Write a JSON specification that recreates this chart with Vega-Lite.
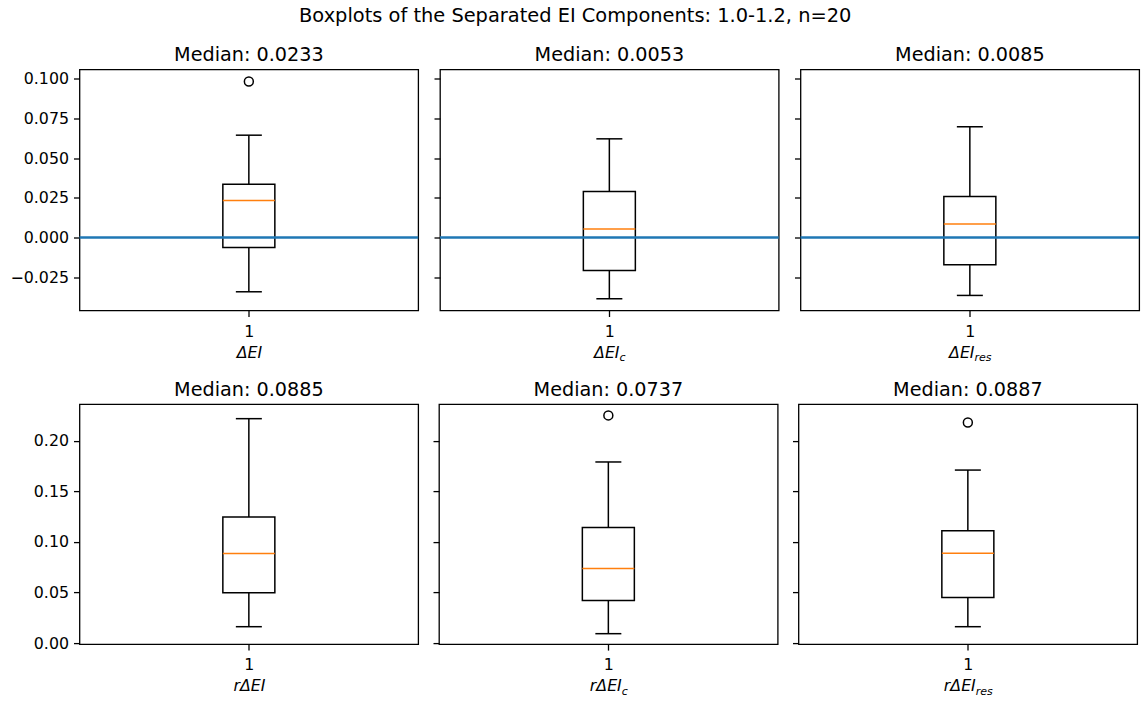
{
 "$schema": "https://vega.github.io/schema/vega-lite/v6.json",
 "background": "white",
 "padding": {"left": 8.5, "top": 5.5, "right": 0, "bottom": 0},
 "title": {"text": "Boxplots of the Separated EI Components: 1.0-1.2, n=20", "anchor": "middle", "fontSize": 19.4, "fontWeight": "normal", "font": "DejaVu Sans", "color": "black", "baseline": "alphabetic", "offset": 4},
 "datasets": {
  "stats": [
   {"panel": "p1", "pos": 1, "lo": -0.0342, "q1": -0.0063, "median": 0.0233, "q3": 0.0336, "hi": 0.0645, "outlier": 0.0983},
   {"panel": "p2", "pos": 1, "lo": -0.0386, "q1": -0.0208, "median": 0.0053, "q3": 0.0290, "hi": 0.0622, "outlier": null},
   {"panel": "p3", "pos": 1, "lo": -0.0365, "q1": -0.0172, "median": 0.0085, "q3": 0.0258, "hi": 0.0698, "outlier": null},
   {"panel": "p4", "pos": 1, "lo": 0.0162, "q1": 0.0497, "median": 0.0885, "q3": 0.1247, "hi": 0.2218, "outlier": null},
   {"panel": "p5", "pos": 1, "lo": 0.0093, "q1": 0.0421, "median": 0.0737, "q3": 0.1142, "hi": 0.1790, "outlier": 0.2250},
   {"panel": "p6", "pos": 1, "lo": 0.0162, "q1": 0.0451, "median": 0.0887, "q3": 0.1110, "hi": 0.1710, "outlier": 0.2180}
  ]
 },
 "data": {"name": "stats"},
 "spacing": 16.6,
 "vconcat": [
  {
   "spacing": 11.5,
   "hconcat": [
    {
     "width": 338.7, "height": 241,
     "title": "Median: 0.0233",
     "transform": [{"filter": "datum.panel === 'p1'"}],
     "layer": [
      {"mark": {"type": "rule", "color": "black", "strokeWidth": 1.5},
       "encoding": {"x": {"field": "pos", "type": "quantitative", "scale": {"domain": [0.5, 1.5]}, "axis": null},
                    "y": {"field": "lo", "type": "quantitative", "scale": {"domain": [-0.046, 0.1059], "nice": false, "zero": false}, "title": null,
                          "axis": {"values": [-0.025, 0, 0.025, 0.05, 0.075, 0.1], "format": ".3f", "labelExpr": "replace(datum.label, '-', '\u2212')", "minExtent": 69.3, "maxExtent": 69.3}},
                    "y2": {"field": "q1"}}},
      {"mark": {"type": "rule", "color": "black", "strokeWidth": 1.5},
       "encoding": {"x": {"field": "pos", "type": "quantitative", "scale": {"domain": [0.5, 1.5]}, "axis": null},
                    "y": {"field": "q3", "type": "quantitative", "scale": {"domain": [-0.046, 0.1059], "nice": false, "zero": false}, "title": null},
                    "y2": {"field": "hi"}}},
      {"mark": {"type": "tick", "orient": "horizontal", "size": 26, "thickness": 1.5, "color": "black", "opacity": 1},
       "encoding": {"x": {"field": "pos", "type": "quantitative", "scale": {"domain": [0.5, 1.5]}, "axis": null},
                    "y": {"field": "lo", "type": "quantitative", "scale": {"domain": [-0.046, 0.1059], "nice": false, "zero": false}, "title": null}}},
      {"mark": {"type": "tick", "orient": "horizontal", "size": 26, "thickness": 1.5, "color": "black", "opacity": 1},
       "encoding": {"x": {"field": "pos", "type": "quantitative", "scale": {"domain": [0.5, 1.5]}, "axis": null},
                    "y": {"field": "hi", "type": "quantitative", "scale": {"domain": [-0.046, 0.1059], "nice": false, "zero": false}, "title": null}}},
      {"mark": {"type": "bar", "size": 52, "fillOpacity": 0, "stroke": "black", "strokeWidth": 1.5},
       "encoding": {"x": {"field": "pos", "type": "quantitative", "scale": {"domain": [0.5, 1.5]},
                          "axis": {"orient": "bottom", "values": [1], "format": "d", "title": "ΔEI", "titleFontStyle": "italic", "titleFontSize": 15.8, "titleX": 169.35, "titleY": 46.7, "titleAlign": "center", "titleBaseline": "alphabetic"}},
                    "y": {"field": "q1", "type": "quantitative", "scale": {"domain": [-0.046, 0.1059], "nice": false, "zero": false}, "title": null},
                    "y2": {"field": "q3"}}},
      {"mark": {"type": "tick", "orient": "horizontal", "size": 52, "thickness": 1.5, "color": "#ff7f0e", "opacity": 1},
       "encoding": {"x": {"field": "pos", "type": "quantitative", "scale": {"domain": [0.5, 1.5]}, "axis": null},
                    "y": {"field": "median", "type": "quantitative", "scale": {"domain": [-0.046, 0.1059], "nice": false, "zero": false}, "title": null}}},
      {"mark": {"type": "point", "shape": "circle", "filled": false, "color": "black", "strokeWidth": 1.5, "size": 80, "opacity": 1},
       "encoding": {"x": {"field": "pos", "type": "quantitative", "scale": {"domain": [0.5, 1.5]}, "axis": null},
                    "y": {"field": "outlier", "type": "quantitative", "scale": {"domain": [-0.046, 0.1059], "nice": false, "zero": false}, "title": null}}},
      {"mark": {"type": "rule", "color": "#1f77b4", "strokeWidth": 2.4},
       "encoding": {"y": {"datum": 0, "type": "quantitative", "scale": {"domain": [-0.046, 0.1059], "nice": false, "zero": false}, "title": null}}}
     ],
     "resolve": {"axis": {"x": "independent"}}
    },
    {
     "width": 338.7, "height": 241,
     "title": "Median: 0.0053",
     "transform": [{"filter": "datum.panel === 'p2'"}],
     "layer": [
      {"mark": {"type": "rule", "color": "black", "strokeWidth": 1.5},
       "encoding": {"x": {"field": "pos", "type": "quantitative", "scale": {"domain": [0.5, 1.5]}, "axis": null},
                    "y": {"field": "lo", "type": "quantitative", "scale": {"domain": [-0.046, 0.1059], "nice": false, "zero": false}, "title": null,
                          "axis": {"values": [-0.025, 0, 0.025, 0.05, 0.075, 0.1], "labels": false, "labelPadding": 0, "minExtent": 6, "maxExtent": 6}},
                    "y2": {"field": "q1"}}},
      {"mark": {"type": "rule", "color": "black", "strokeWidth": 1.5},
       "encoding": {"x": {"field": "pos", "type": "quantitative", "scale": {"domain": [0.5, 1.5]}, "axis": null},
                    "y": {"field": "q3", "type": "quantitative", "scale": {"domain": [-0.046, 0.1059], "nice": false, "zero": false}, "title": null},
                    "y2": {"field": "hi"}}},
      {"mark": {"type": "tick", "orient": "horizontal", "size": 26, "thickness": 1.5, "color": "black", "opacity": 1},
       "encoding": {"x": {"field": "pos", "type": "quantitative", "scale": {"domain": [0.5, 1.5]}, "axis": null},
                    "y": {"field": "lo", "type": "quantitative", "scale": {"domain": [-0.046, 0.1059], "nice": false, "zero": false}, "title": null}}},
      {"mark": {"type": "tick", "orient": "horizontal", "size": 26, "thickness": 1.5, "color": "black", "opacity": 1},
       "encoding": {"x": {"field": "pos", "type": "quantitative", "scale": {"domain": [0.5, 1.5]}, "axis": null},
                    "y": {"field": "hi", "type": "quantitative", "scale": {"domain": [-0.046, 0.1059], "nice": false, "zero": false}, "title": null}}},
      {"mark": {"type": "bar", "size": 52, "fillOpacity": 0, "stroke": "black", "strokeWidth": 1.5},
       "encoding": {"x": {"field": "pos", "type": "quantitative", "scale": {"domain": [0.5, 1.5]},
                          "axis": {"orient": "bottom", "values": [1], "format": "d", "title": "ΔEI", "titleFontStyle": "italic", "titleFontSize": 15.8, "titleX": 166.3, "titleY": 46.7, "titleAlign": "center", "titleBaseline": "alphabetic"}},
                    "y": {"field": "q1", "type": "quantitative", "scale": {"domain": [-0.046, 0.1059], "nice": false, "zero": false}, "title": null},
                    "y2": {"field": "q3"}}},
      {"mark": {"type": "tick", "orient": "horizontal", "size": 52, "thickness": 1.5, "color": "#ff7f0e", "opacity": 1},
       "encoding": {"x": {"field": "pos", "type": "quantitative", "scale": {"domain": [0.5, 1.5]},
                          "axis": {"orient": "bottom", "values": [1], "labels": false, "ticks": false, "domain": false, "title": "c", "titleFontStyle": "italic", "titleFontSize": 11, "titleX": 182.1, "titleY": 50, "titleAlign": "center", "titleBaseline": "alphabetic"}},
                    "y": {"field": "median", "type": "quantitative", "scale": {"domain": [-0.046, 0.1059], "nice": false, "zero": false}, "title": null}}},
      {"mark": {"type": "point", "shape": "circle", "filled": false, "color": "black", "strokeWidth": 1.5, "size": 80, "opacity": 1},
       "encoding": {"x": {"field": "pos", "type": "quantitative", "scale": {"domain": [0.5, 1.5]}, "axis": null},
                    "y": {"field": "outlier", "type": "quantitative", "scale": {"domain": [-0.046, 0.1059], "nice": false, "zero": false}, "title": null}}},
      {"mark": {"type": "rule", "color": "#1f77b4", "strokeWidth": 2.4},
       "encoding": {"y": {"datum": 0, "type": "quantitative", "scale": {"domain": [-0.046, 0.1059], "nice": false, "zero": false}, "title": null}}}
     ],
     "resolve": {"axis": {"x": "independent"}}
    },
    {
     "width": 338.7, "height": 241,
     "title": "Median: 0.0085",
     "transform": [{"filter": "datum.panel === 'p3'"}],
     "layer": [
      {"mark": {"type": "rule", "color": "black", "strokeWidth": 1.5},
       "encoding": {"x": {"field": "pos", "type": "quantitative", "scale": {"domain": [0.5, 1.5]}, "axis": null},
                    "y": {"field": "lo", "type": "quantitative", "scale": {"domain": [-0.046, 0.1059], "nice": false, "zero": false}, "title": null,
                          "axis": {"values": [-0.025, 0, 0.025, 0.05, 0.075, 0.1], "labels": false, "labelPadding": 0, "minExtent": 6, "maxExtent": 6}},
                    "y2": {"field": "q1"}}},
      {"mark": {"type": "rule", "color": "black", "strokeWidth": 1.5},
       "encoding": {"x": {"field": "pos", "type": "quantitative", "scale": {"domain": [0.5, 1.5]}, "axis": null},
                    "y": {"field": "q3", "type": "quantitative", "scale": {"domain": [-0.046, 0.1059], "nice": false, "zero": false}, "title": null},
                    "y2": {"field": "hi"}}},
      {"mark": {"type": "tick", "orient": "horizontal", "size": 26, "thickness": 1.5, "color": "black", "opacity": 1},
       "encoding": {"x": {"field": "pos", "type": "quantitative", "scale": {"domain": [0.5, 1.5]}, "axis": null},
                    "y": {"field": "lo", "type": "quantitative", "scale": {"domain": [-0.046, 0.1059], "nice": false, "zero": false}, "title": null}}},
      {"mark": {"type": "tick", "orient": "horizontal", "size": 26, "thickness": 1.5, "color": "black", "opacity": 1},
       "encoding": {"x": {"field": "pos", "type": "quantitative", "scale": {"domain": [0.5, 1.5]}, "axis": null},
                    "y": {"field": "hi", "type": "quantitative", "scale": {"domain": [-0.046, 0.1059], "nice": false, "zero": false}, "title": null}}},
      {"mark": {"type": "bar", "size": 52, "fillOpacity": 0, "stroke": "black", "strokeWidth": 1.5},
       "encoding": {"x": {"field": "pos", "type": "quantitative", "scale": {"domain": [0.5, 1.5]},
                          "axis": {"orient": "bottom", "values": [1], "format": "d", "title": "ΔEI", "titleFontStyle": "italic", "titleFontSize": 15.8, "titleX": 160.8, "titleY": 46.7, "titleAlign": "center", "titleBaseline": "alphabetic"}},
                    "y": {"field": "q1", "type": "quantitative", "scale": {"domain": [-0.046, 0.1059], "nice": false, "zero": false}, "title": null},
                    "y2": {"field": "q3"}}},
      {"mark": {"type": "tick", "orient": "horizontal", "size": 52, "thickness": 1.5, "color": "#ff7f0e", "opacity": 1},
       "encoding": {"x": {"field": "pos", "type": "quantitative", "scale": {"domain": [0.5, 1.5]},
                          "axis": {"orient": "bottom", "values": [1], "labels": false, "ticks": false, "domain": false, "title": "res", "titleFontStyle": "italic", "titleFontSize": 11, "titleX": 182.1, "titleY": 50, "titleAlign": "center", "titleBaseline": "alphabetic"}},
                    "y": {"field": "median", "type": "quantitative", "scale": {"domain": [-0.046, 0.1059], "nice": false, "zero": false}, "title": null}}},
      {"mark": {"type": "point", "shape": "circle", "filled": false, "color": "black", "strokeWidth": 1.5, "size": 80, "opacity": 1},
       "encoding": {"x": {"field": "pos", "type": "quantitative", "scale": {"domain": [0.5, 1.5]}, "axis": null},
                    "y": {"field": "outlier", "type": "quantitative", "scale": {"domain": [-0.046, 0.1059], "nice": false, "zero": false}, "title": null}}},
      {"mark": {"type": "rule", "color": "#1f77b4", "strokeWidth": 2.4},
       "encoding": {"y": {"datum": 0, "type": "quantitative", "scale": {"domain": [-0.046, 0.1059], "nice": false, "zero": false}, "title": null}}}
     ],
     "resolve": {"axis": {"x": "independent"}}
    }
   ]
  },
  {
   "spacing": 11.5,
   "hconcat": [
    {
     "width": 338.7, "height": 240,
     "title": "Median: 0.0885",
     "transform": [{"filter": "datum.panel === 'p4'"}],
     "layer": [
      {"mark": {"type": "rule", "color": "black", "strokeWidth": 1.5},
       "encoding": {"x": {"field": "pos", "type": "quantitative", "scale": {"domain": [0.5, 1.5]}, "axis": null},
                    "y": {"field": "lo", "type": "quantitative", "scale": {"domain": [-0.001, 0.2362], "nice": false, "zero": false}, "title": null,
                          "axis": {"values": [0, 0.05, 0.1, 0.15, 0.2], "format": ".2f", "minExtent": 69.3, "maxExtent": 69.3}},
                    "y2": {"field": "q1"}}},
      {"mark": {"type": "rule", "color": "black", "strokeWidth": 1.5},
       "encoding": {"x": {"field": "pos", "type": "quantitative", "scale": {"domain": [0.5, 1.5]}, "axis": null},
                    "y": {"field": "q3", "type": "quantitative", "scale": {"domain": [-0.001, 0.2362], "nice": false, "zero": false}, "title": null},
                    "y2": {"field": "hi"}}},
      {"mark": {"type": "tick", "orient": "horizontal", "size": 26, "thickness": 1.5, "color": "black", "opacity": 1},
       "encoding": {"x": {"field": "pos", "type": "quantitative", "scale": {"domain": [0.5, 1.5]}, "axis": null},
                    "y": {"field": "lo", "type": "quantitative", "scale": {"domain": [-0.001, 0.2362], "nice": false, "zero": false}, "title": null}}},
      {"mark": {"type": "tick", "orient": "horizontal", "size": 26, "thickness": 1.5, "color": "black", "opacity": 1},
       "encoding": {"x": {"field": "pos", "type": "quantitative", "scale": {"domain": [0.5, 1.5]}, "axis": null},
                    "y": {"field": "hi", "type": "quantitative", "scale": {"domain": [-0.001, 0.2362], "nice": false, "zero": false}, "title": null}}},
      {"mark": {"type": "bar", "size": 52, "fillOpacity": 0, "stroke": "black", "strokeWidth": 1.5},
       "encoding": {"x": {"field": "pos", "type": "quantitative", "scale": {"domain": [0.5, 1.5]},
                          "axis": {"orient": "bottom", "values": [1], "format": "d", "title": "rΔEI", "titleFontStyle": "italic", "titleFontSize": 15.8, "titleX": 169.35, "titleY": 46.7, "titleAlign": "center", "titleBaseline": "alphabetic"}},
                    "y": {"field": "q1", "type": "quantitative", "scale": {"domain": [-0.001, 0.2362], "nice": false, "zero": false}, "title": null},
                    "y2": {"field": "q3"}}},
      {"mark": {"type": "tick", "orient": "horizontal", "size": 52, "thickness": 1.5, "color": "#ff7f0e", "opacity": 1},
       "encoding": {"x": {"field": "pos", "type": "quantitative", "scale": {"domain": [0.5, 1.5]}, "axis": null},
                    "y": {"field": "median", "type": "quantitative", "scale": {"domain": [-0.001, 0.2362], "nice": false, "zero": false}, "title": null}}},
      {"mark": {"type": "point", "shape": "circle", "filled": false, "color": "black", "strokeWidth": 1.5, "size": 80, "opacity": 1},
       "encoding": {"x": {"field": "pos", "type": "quantitative", "scale": {"domain": [0.5, 1.5]}, "axis": null},
                    "y": {"field": "outlier", "type": "quantitative", "scale": {"domain": [-0.001, 0.2362], "nice": false, "zero": false}, "title": null}}}
     ],
     "resolve": {"axis": {"x": "independent"}}
    },
    {
     "width": 338.7, "height": 240,
     "title": "Median: 0.0737",
     "transform": [{"filter": "datum.panel === 'p5'"}],
     "layer": [
      {"mark": {"type": "rule", "color": "black", "strokeWidth": 1.5},
       "encoding": {"x": {"field": "pos", "type": "quantitative", "scale": {"domain": [0.5, 1.5]}, "axis": null},
                    "y": {"field": "lo", "type": "quantitative", "scale": {"domain": [-0.001, 0.2362], "nice": false, "zero": false}, "title": null,
                          "axis": {"values": [0, 0.05, 0.1, 0.15, 0.2], "labels": false, "labelPadding": 0, "minExtent": 6, "maxExtent": 6}},
                    "y2": {"field": "q1"}}},
      {"mark": {"type": "rule", "color": "black", "strokeWidth": 1.5},
       "encoding": {"x": {"field": "pos", "type": "quantitative", "scale": {"domain": [0.5, 1.5]}, "axis": null},
                    "y": {"field": "q3", "type": "quantitative", "scale": {"domain": [-0.001, 0.2362], "nice": false, "zero": false}, "title": null},
                    "y2": {"field": "hi"}}},
      {"mark": {"type": "tick", "orient": "horizontal", "size": 26, "thickness": 1.5, "color": "black", "opacity": 1},
       "encoding": {"x": {"field": "pos", "type": "quantitative", "scale": {"domain": [0.5, 1.5]}, "axis": null},
                    "y": {"field": "lo", "type": "quantitative", "scale": {"domain": [-0.001, 0.2362], "nice": false, "zero": false}, "title": null}}},
      {"mark": {"type": "tick", "orient": "horizontal", "size": 26, "thickness": 1.5, "color": "black", "opacity": 1},
       "encoding": {"x": {"field": "pos", "type": "quantitative", "scale": {"domain": [0.5, 1.5]}, "axis": null},
                    "y": {"field": "hi", "type": "quantitative", "scale": {"domain": [-0.001, 0.2362], "nice": false, "zero": false}, "title": null}}},
      {"mark": {"type": "bar", "size": 52, "fillOpacity": 0, "stroke": "black", "strokeWidth": 1.5},
       "encoding": {"x": {"field": "pos", "type": "quantitative", "scale": {"domain": [0.5, 1.5]},
                          "axis": {"orient": "bottom", "values": [1], "format": "d", "title": "rΔEI", "titleFontStyle": "italic", "titleFontSize": 15.8, "titleX": 166.3, "titleY": 46.7, "titleAlign": "center", "titleBaseline": "alphabetic"}},
                    "y": {"field": "q1", "type": "quantitative", "scale": {"domain": [-0.001, 0.2362], "nice": false, "zero": false}, "title": null},
                    "y2": {"field": "q3"}}},
      {"mark": {"type": "tick", "orient": "horizontal", "size": 52, "thickness": 1.5, "color": "#ff7f0e", "opacity": 1},
       "encoding": {"x": {"field": "pos", "type": "quantitative", "scale": {"domain": [0.5, 1.5]},
                          "axis": {"orient": "bottom", "values": [1], "labels": false, "ticks": false, "domain": false, "title": "c", "titleFontStyle": "italic", "titleFontSize": 11, "titleX": 185.35, "titleY": 50, "titleAlign": "center", "titleBaseline": "alphabetic"}},
                    "y": {"field": "median", "type": "quantitative", "scale": {"domain": [-0.001, 0.2362], "nice": false, "zero": false}, "title": null}}},
      {"mark": {"type": "point", "shape": "circle", "filled": false, "color": "black", "strokeWidth": 1.5, "size": 80, "opacity": 1},
       "encoding": {"x": {"field": "pos", "type": "quantitative", "scale": {"domain": [0.5, 1.5]}, "axis": null},
                    "y": {"field": "outlier", "type": "quantitative", "scale": {"domain": [-0.001, 0.2362], "nice": false, "zero": false}, "title": null}}}
     ],
     "resolve": {"axis": {"x": "independent"}}
    },
    {
     "width": 338.7, "height": 240,
     "title": "Median: 0.0887",
     "transform": [{"filter": "datum.panel === 'p6'"}],
     "layer": [
      {"mark": {"type": "rule", "color": "black", "strokeWidth": 1.5},
       "encoding": {"x": {"field": "pos", "type": "quantitative", "scale": {"domain": [0.5, 1.5]}, "axis": null},
                    "y": {"field": "lo", "type": "quantitative", "scale": {"domain": [-0.001, 0.2362], "nice": false, "zero": false}, "title": null,
                          "axis": {"values": [0, 0.05, 0.1, 0.15, 0.2], "labels": false, "labelPadding": 0, "minExtent": 6, "maxExtent": 6}},
                    "y2": {"field": "q1"}}},
      {"mark": {"type": "rule", "color": "black", "strokeWidth": 1.5},
       "encoding": {"x": {"field": "pos", "type": "quantitative", "scale": {"domain": [0.5, 1.5]}, "axis": null},
                    "y": {"field": "q3", "type": "quantitative", "scale": {"domain": [-0.001, 0.2362], "nice": false, "zero": false}, "title": null},
                    "y2": {"field": "hi"}}},
      {"mark": {"type": "tick", "orient": "horizontal", "size": 26, "thickness": 1.5, "color": "black", "opacity": 1},
       "encoding": {"x": {"field": "pos", "type": "quantitative", "scale": {"domain": [0.5, 1.5]}, "axis": null},
                    "y": {"field": "lo", "type": "quantitative", "scale": {"domain": [-0.001, 0.2362], "nice": false, "zero": false}, "title": null}}},
      {"mark": {"type": "tick", "orient": "horizontal", "size": 26, "thickness": 1.5, "color": "black", "opacity": 1},
       "encoding": {"x": {"field": "pos", "type": "quantitative", "scale": {"domain": [0.5, 1.5]}, "axis": null},
                    "y": {"field": "hi", "type": "quantitative", "scale": {"domain": [-0.001, 0.2362], "nice": false, "zero": false}, "title": null}}},
      {"mark": {"type": "bar", "size": 52, "fillOpacity": 0, "stroke": "black", "strokeWidth": 1.5},
       "encoding": {"x": {"field": "pos", "type": "quantitative", "scale": {"domain": [0.5, 1.5]},
                          "axis": {"orient": "bottom", "values": [1], "format": "d", "title": "rΔEI", "titleFontStyle": "italic", "titleFontSize": 15.8, "titleX": 160.8, "titleY": 46.7, "titleAlign": "center", "titleBaseline": "alphabetic"}},
                    "y": {"field": "q1", "type": "quantitative", "scale": {"domain": [-0.001, 0.2362], "nice": false, "zero": false}, "title": null},
                    "y2": {"field": "q3"}}},
      {"mark": {"type": "tick", "orient": "horizontal", "size": 52, "thickness": 1.5, "color": "#ff7f0e", "opacity": 1},
       "encoding": {"x": {"field": "pos", "type": "quantitative", "scale": {"domain": [0.5, 1.5]},
                          "axis": {"orient": "bottom", "values": [1], "labels": false, "ticks": false, "domain": false, "title": "res", "titleFontStyle": "italic", "titleFontSize": 11, "titleX": 185.35, "titleY": 50, "titleAlign": "center", "titleBaseline": "alphabetic"}},
                    "y": {"field": "median", "type": "quantitative", "scale": {"domain": [-0.001, 0.2362], "nice": false, "zero": false}, "title": null}}},
      {"mark": {"type": "point", "shape": "circle", "filled": false, "color": "black", "strokeWidth": 1.5, "size": 80, "opacity": 1},
       "encoding": {"x": {"field": "pos", "type": "quantitative", "scale": {"domain": [0.5, 1.5]}, "axis": null},
                    "y": {"field": "outlier", "type": "quantitative", "scale": {"domain": [-0.001, 0.2362], "nice": false, "zero": false}, "title": null}}}
     ],
     "resolve": {"axis": {"x": "independent"}}
    }
   ]
  }
 ],
 "config": {
  "font": "DejaVu Sans",
  "view": {"stroke": "black", "strokeWidth": 1.3},
  "axis": {"grid": false, "domain": false, "tickColor": "black", "tickSize": 6, "tickWidth": 1.3, "labelColor": "black", "labelFont": "DejaVu Sans", "labelFontSize": 15.8, "titleFont": "DejaVu Sans", "titleFontWeight": "normal", "titleColor": "black"},
  "axisY": {"labelPadding": 5},
  "axisX": {"labelPadding": 19.5, "labelBaseline": "alphabetic"},
  "title": {"font": "DejaVu Sans", "fontSize": 19.2, "fontWeight": "normal", "color": "black", "baseline": "alphabetic", "offset": 4}
 }
}
